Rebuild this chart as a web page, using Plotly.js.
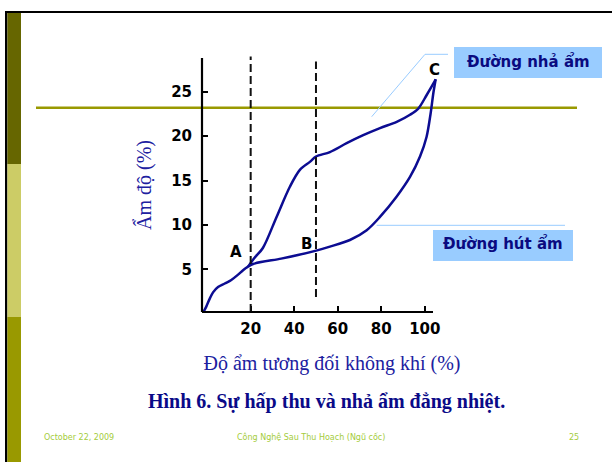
<!DOCTYPE html>
<html>
<head>
<meta charset="utf-8">
<script src="https://cdn.plot.ly/plotly-3.0.1.min.js"></script>
<style>
  html, body { margin: 0; padding: 0; background: #ffffff; }
  #chart { width: 612px; height: 462px; }
</style>
</head>
<body>
<div id="chart"></div>
<script>
// Isotherm: grain moisture content (%) vs. relative air humidity (%)
// Sorption branch (đường hút ẩm), from the origin up to point C
const sorptionRH = [-1.9, -0.4, 1.2, 2.7, 5.0, 8.1, 11.1, 14.2, 16.5, 18.8, 21.1, 34.0, 41.7, 50.1, 56.4, 65.6, 73.3, 79.4, 87.1, 93.2, 97.8, 100.8, 102.7, 103.9, 105.0];
const sorptionMC = [0.1, 0.8, 1.7, 2.4, 3.0, 3.4, 3.8, 4.4, 4.9, 5.3, 5.6, 6.2, 6.6, 7.1, 7.55, 8.3, 9.4, 10.9, 13.2, 15.4, 17.7, 19.9, 22.6, 24.8, 26.4];

// Desorption branch (đường nhả ẩm), from point C back down to point A
const desorptionRH = [105.0, 103.9, 100.8, 97.0, 93.2, 87.1, 79.4, 71.7, 64.1, 56.4, 50.0, 47.2, 42.6, 38.0, 31.9, 25.6, 21.8, 18.8];
const desorptionMC = [26.4, 25.9, 24.6, 23.1, 22.4, 21.6, 20.9, 20.1, 19.2, 18.2, 17.7, 17.1, 16.2, 14.3, 10.9, 7.4, 6.3, 5.3];

// Point labels on the curves
const pointNames = ['A', 'B', 'C'];
const pointRH = [13.4, 45.5, 104.6];
const pointMC = [6.95, 7.9, 27.4];

// Vertical guide lines (relative humidity, %)
const guideRH = [20, 50];

// Tick values and texts
const rhTicks = [20, 40, 60, 80, 100];
const rhTickText = ['20', '40', '60', '80', '100'];
const mcTicks = [5, 10, 15, 20, 25];
const mcTickText = ['5', '10', '15', '20', '25'];

// Text
const xTitle = 'Độ ẩm tương đối không khí (%)';
const yTitle = 'Ẩm độ (%)';
const caption = 'Hình 6. Sự hấp thu và nhả ẩm đẳng nhiệt.';
const desorptionName = 'Đường nhả ẩm';
const sorptionName = 'Đường hút ẩm';
const footerDate = 'October 22, 2009';
const footerCourse = 'Công Nghệ Sau Thu Hoạch (Ngũ cốc)';
const footerPage = '25';

// ---- page geometry (pixels) ----
const W = 612, H = 462;
const L = 202, R = 462, T = 58, B = 312;
const px = v => (v - L) / (R - L);   // page x pixel -> paper
const py = v => (B - v) / (B - T);   // page y pixel -> paper

const NAVY = '#0c0c92';
const TITLE_BLUE = '#2020a0';
const CAPTION_BLUE = '#0a0a88';
const OLIVE = '#999900';
const CALLOUT = '#99ccff';
const FOOT = '#a4cc3c';

const traces = [
  {
    x: sorptionRH, y: sorptionMC, name: sorptionName,
    type: 'scatter', mode: 'lines',
    line: { color: NAVY, width: 2.5, shape: 'spline', smoothing: 0.9 },
    hoverinfo: 'skip'
  },
  {
    x: desorptionRH, y: desorptionMC, name: desorptionName,
    type: 'scatter', mode: 'lines',
    line: { color: NAVY, width: 2.5, shape: 'spline', smoothing: 0.9 },
    hoverinfo: 'skip'
  }
];

const shapes = [];
// slide frame
shapes.push({ type: 'line', xref: 'paper', yref: 'paper', x0: px(5), x1: px(W), y0: py(12), y1: py(12), line: { color: '#000', width: 2.2 } });
shapes.push({ type: 'line', xref: 'paper', yref: 'paper', x0: px(6.2), x1: px(6.2), y0: py(11), y1: py(H), line: { color: '#000', width: 2.4 } });
// coloured side band
[[13, 164, '#666600'], [164, 317, '#cccc66'], [317, H, '#999900']].forEach(([a, b, c]) => {
  shapes.push({ type: 'rect', xref: 'paper', yref: 'paper', x0: px(7.4), x1: px(21), y0: py(b), y1: py(a), fillcolor: c, line: { width: 0 } });
});
// olive rule
shapes.push({ type: 'line', xref: 'paper', yref: 'paper', layer: 'below', x0: px(36), x1: px(577), y0: py(107.7), y1: py(107.7), line: { color: OLIVE, width: 2.6 } });

// dashed guides
const guideTop = [56.5, 61.5], guideBottom = [312, 297];
guideRH.forEach((g, i) => {
  shapes.push({ type: 'line', xref: 'x', yref: 'paper', x0: g, x1: g, y0: py(guideBottom[i]), y1: py(guideTop[i]), line: { color: '#111', width: 2, dash: '8px,4px' } });
});

// axis lines
shapes.push({ type: 'line', xref: 'paper', yref: 'paper', x0: 0, x1: px(433), y0: 0, y1: 0, line: { color: '#000', width: 2.2 } });
shapes.push({ type: 'line', xref: 'paper', yref: 'paper', x0: 0, x1: 0, y0: 0, y1: 1, line: { color: '#000', width: 2.2 } });

// callout leaders
shapes.push({ type: 'line', xref: 'paper', yref: 'paper', x0: px(448), x1: px(425), y0: py(54.3), y1: py(54.3), line: { color: CALLOUT, width: 1 } });
shapes.push({ type: 'line', xref: 'paper', yref: 'paper', x0: px(425), x1: px(371.7), y0: py(54.3), y1: py(116.7), line: { color: CALLOUT, width: 1 } });
shapes.push({ type: 'line', xref: 'paper', yref: 'paper', x0: px(376.7), x1: px(565), y0: py(225.3), y1: py(225.3), line: { color: CALLOUT, width: 1 } });
// callout boxes
shapes.push({ type: 'rect', xref: 'paper', yref: 'paper', x0: px(454), x1: px(602), y0: py(78), y1: py(47), fillcolor: CALLOUT, line: { width: 0 } });
shapes.push({ type: 'rect', xref: 'paper', yref: 'paper', x0: px(433), x1: px(573), y0: py(261), y1: py(230), fillcolor: CALLOUT, line: { width: 0 } });

const boldSans = { family: 'DejaVu Sans, Verdana, sans-serif', size: 15, weight: 'bold', color: '#000' };

const annotations = [];
pointNames.forEach((n, i) => {
  annotations.push({ x: pointRH[i], y: pointMC[i], xref: 'x', yref: 'y', text: n, showarrow: false, xanchor: 'center', yanchor: 'middle', font: boldSans });
});
annotations.push({ x: px(528), y: py(62), xref: 'paper', yref: 'paper', text: desorptionName, showarrow: false, xanchor: 'center', yanchor: 'middle', font: Object.assign({}, boldSans, { color: '#0a0a80' }) });
annotations.push({ x: px(503.3), y: py(243.5), xref: 'paper', yref: 'paper', text: sorptionName, showarrow: false, xanchor: 'center', yanchor: 'middle', font: Object.assign({}, boldSans, { color: '#0a0a80' }) });
annotations.push({ x: px(326.7), y: py(401.7), xref: 'paper', yref: 'paper', text: caption, showarrow: false, xanchor: 'center', yanchor: 'middle', font: { family: 'Liberation Serif, Times New Roman, serif', size: 20, weight: 'bold', color: CAPTION_BLUE } });
const footFont = { family: 'DejaVu Sans, Verdana, sans-serif', size: 8, color: FOOT };
annotations.push({ x: px(79), y: py(437), xref: 'paper', yref: 'paper', text: footerDate, showarrow: false, xanchor: 'center', yanchor: 'middle', font: footFont });
annotations.push({ x: px(310.8), y: py(437), xref: 'paper', yref: 'paper', text: footerCourse, showarrow: false, xanchor: 'center', yanchor: 'middle', font: footFont });
annotations.push({ x: px(574), y: py(437), xref: 'paper', yref: 'paper', text: footerPage, showarrow: false, xanchor: 'center', yanchor: 'middle', font: footFont });

const layout = {
  width: W, height: H,
  margin: { l: L, r: W - R, t: T, b: H - B, pad: 0 },
  paper_bgcolor: '#ffffff',
  plot_bgcolor: 'rgba(0,0,0,0)',
  showlegend: false,
  xaxis: {
    range: [(L - 207.15) / 2.1765, (R - 207.15) / 2.1765],
    tickvals: rhTicks, ticktext: rhTickText,
    ticks: 'inside', ticklen: 6, tickwidth: 2, tickcolor: '#000',
    ticklabelstandoff: 6,
    showline: false, showgrid: false, zeroline: false,
    tickfont: boldSans,
    title: { text: xTitle, standoff: 18, font: { family: 'Liberation Serif, Times New Roman, serif', size: 20, color: TITLE_BLUE } },
    automargin: false, fixedrange: true
  },
  yaxis: {
    range: [(313.7 - B) / 8.88, (313.7 - T) / 8.88],
    tickvals: mcTicks, ticktext: mcTickText,
    ticks: 'inside', ticklen: 6, tickwidth: 2, tickcolor: '#000',
    ticklabelstandoff: 9,
    showline: false, showgrid: false, zeroline: false,
    tickfont: boldSans,
    title: { text: yTitle, standoff: 14, font: { family: 'Liberation Serif, Times New Roman, serif', size: 20, color: TITLE_BLUE } },
    automargin: false, fixedrange: true
  },
  shapes: shapes,
  annotations: annotations
};

Plotly.newPlot('chart', traces, layout, { staticPlot: true, displayModeBar: false });
</script>
</body>
</html>
